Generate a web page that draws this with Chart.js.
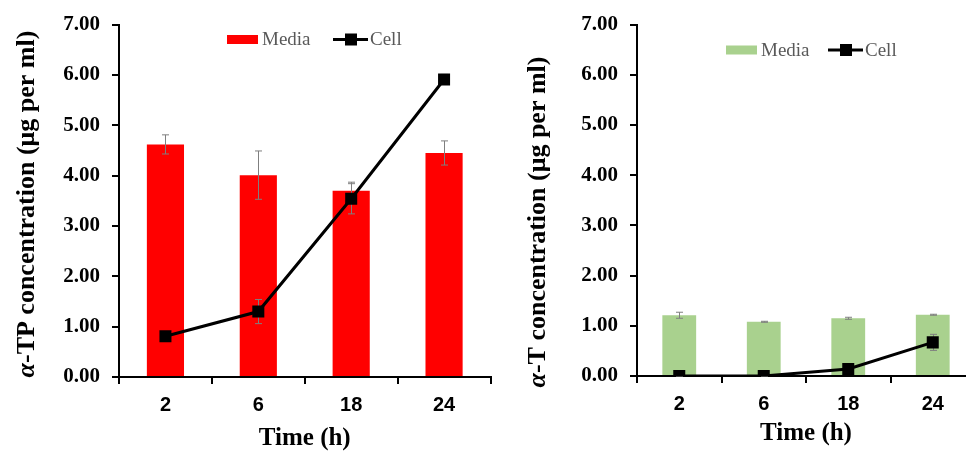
<!DOCTYPE html>
<html>
<head>
<meta charset="utf-8">
<script src="https://cdn.jsdelivr.net/npm/chart.js@4"></script>
<style>
  html, body { margin: 0; padding: 0; background: #fff; overflow: hidden; }
  body { width: 966px; height: 451px; position: relative; }
  canvas { position: absolute; top: 0; }
  #tpChart { left: 0; }
  #tChart { left: 495px; }
</style>
</head>
<body>
<canvas id="tpChart" width="499" height="451"></canvas>
<canvas id="tChart" width="490" height="451"></canvas>
<script>
// sampling times (h)
const hours = ['2', '6', '18', '24'];
const yMin = 0, yMax = 7, yStep = 1;

// alpha-TP (left panel)
const tpMedia = [4.62, 4.01, 3.70, 4.45];
const tpMediaErr = [0.19, 0.48, 0.17, 0.24];
const tpCell = [0.81, 1.30, 3.54, 5.91];
const tpCellErr = [0.06, 0.24, 0.30, 0.10];

// alpha-T (right panel)
const tMedia = [1.21, 1.08, 1.15, 1.22];
const tMediaErr = [0.06, 0.01, 0.02, 0.01];
const tCell = [0.00, 0.00, 0.14, 0.67];
const tCellErr = [0.01, 0.01, 0.03, 0.16];

const SERIF = '"Liberation Serif", "Times New Roman", serif';
const SANS = '"Liberation Sans", Arial, sans-serif';

// gray whiskers: under the line markers, over the bars
function drawErrors(chart, args) {
    const ds = chart.data.datasets[args.index];
    if (!ds.errors) return;
    const ctx = chart.ctx, y = chart.scales.y;
    ctx.save();
    ctx.strokeStyle = '#7f7f7f';
    ctx.lineWidth = 1;
    args.meta.data.forEach((el, i) => {
        const v = ds.data[i], e = ds.errors[i];
        const top = y.getPixelForValue(v + e);
        const bot = y.getPixelForValue(Math.max(0, v - e));
        const x = Math.round(el.x) + 0.5;
        ctx.beginPath();
        ctx.moveTo(x, top); ctx.lineTo(x, bot);
        ctx.moveTo(x - 3.5, top); ctx.lineTo(x + 3.5, top);
        ctx.moveTo(x - 3.5, bot); ctx.lineTo(x + 3.5, bot);
        ctx.stroke();
    });
    ctx.restore();
}

const errorBars = {
    id: 'errorBars',
    beforeDatasetDraw(chart, args) {
        if (chart.data.datasets[args.index].type === 'line') drawErrors(chart, args);
    },
    afterDatasetDraw(chart, args) {
        if (chart.data.datasets[args.index].type === 'bar') drawErrors(chart, args);
    },
};

// legend sitting inside the plot, like the original
const floatLegend = {
    id: 'floatLegend',
    afterDraw(chart, args, o) {
        const ctx = chart.ctx;
        const bar = chart.data.datasets.find((d) => d.type === 'bar');
        const line = chart.data.datasets.find((d) => d.type === 'line');
        ctx.save();
        ctx.font = '19px ' + SERIF;
        ctx.textBaseline = 'middle';
        ctx.fillStyle = bar.backgroundColor;
        ctx.fillRect(o.x, o.y - 4.5, 31, 9);
        ctx.fillStyle = '#595959';
        ctx.fillText(bar.label, o.x + 35, o.y + 1);
        ctx.strokeStyle = line.borderColor;
        ctx.lineWidth = 3;
        ctx.beginPath();
        ctx.moveTo(o.cellX, o.y);
        ctx.lineTo(o.cellX + 35, o.y);
        ctx.stroke();
        ctx.fillStyle = line.pointBackgroundColor;
        ctx.fillRect(o.cellX + 12, o.y - 6, 12, 12);
        ctx.fillStyle = '#595959';
        ctx.fillText(line.label, o.cellX + 37, o.y + 1);
        ctx.restore();
    },
};

// rotated y title with an italic alpha
const yTitle = {
    id: 'yTitle',
    afterDraw(chart, args, o) {
        const ctx = chart.ctx;
        ctx.save();
        ctx.translate(o.x, o.y);
        ctx.rotate(-Math.PI / 2);
        ctx.textBaseline = 'middle';
        ctx.fillStyle = '#000';
        const a = o.text[0], rest = o.text.slice(1);
        ctx.font = 'italic bold ' + o.size + 'px ' + SERIF;
        const wa = ctx.measureText(a).width;
        ctx.font = 'bold ' + o.size + 'px ' + SERIF;
        const wr = ctx.measureText(rest).width;
        const x0 = -(wa + wr) / 2;
        ctx.font = 'italic bold ' + o.size + 'px ' + SERIF;
        ctx.fillText(a, x0, 0);
        ctx.font = 'bold ' + o.size + 'px ' + SERIF;
        ctx.fillText(rest, x0 + wa, 0);
        ctx.restore();
    },
};

function makeChart(id, media, mediaErr, cell, cellErr, barColor, c) {
    return new Chart(document.getElementById(id), {
        data: {
            labels: hours,
            datasets: [
                { type: 'line', label: 'Cell', data: cell, errors: cellErr, order: 0,
                  borderColor: '#000', borderWidth: 3, pointStyle: 'rect', pointRadius: 8.5,
                  pointBackgroundColor: '#000', pointBorderWidth: 0, tension: 0 },
                { type: 'bar', label: 'Media', data: media, errors: mediaErr, order: 1,
                  backgroundColor: barColor, categoryPercentage: 0.4, barPercentage: 1 },
            ],
        },
        options: {
            responsive: false,
            animation: false,
            events: [],
            layout: { padding: { left: 0, top: c.top, right: c.right, bottom: 0 } },
            plugins: {
                legend: { display: false },
                tooltip: { enabled: false },
                floatLegend: c.legend,
                yTitle: c.yTitle,
            },
            scales: {
                x: {
                    afterFit: (s) => { s.height = c.xHeight; },
                    grid: { offset: true, drawOnChartArea: false, drawTicks: true, tickLength: 7,
                            color: '#000', lineWidth: 2 },
                    border: { color: '#000', width: 2 },
                    ticks: { color: '#000', padding: 9, font: { family: SANS, size: 20, weight: 'bold' } },
                    title: { display: true, text: 'Time (h)', color: '#000',
                             padding: { top: 0, bottom: c.xTitlePad },
                             font: { family: SERIF, size: 25, weight: 'bold', lineHeight: 1 } },
                },
                y: {
                    min: yMin, max: yMax,
                    afterFit: (s) => { s.width = c.yWidth; },
                    grid: { drawOnChartArea: false, drawTicks: true, tickLength: 7,
                            color: '#000', lineWidth: 2 },
                    border: { color: '#000', width: 2 },
                    ticks: { stepSize: yStep, color: '#000', padding: 12,
                             callback: (v) => v.toFixed(2),
                             font: { family: SERIF, size: 21, weight: 'bold' } },
                },
            },
        },
        plugins: [errorBars, floatLegend, yTitle],
    });
}

makeChart('tpChart', tpMedia, tpMediaErr, tpCell, tpCellErr, '#ff0000', {
    top: 21, right: 0, xHeight: 74, yWidth: 119, xTitlePad: 0,
    legend: { x: 227, y: 39.5, cellX: 333 },
    yTitle: { x: 27, y: 204, size: 26, text: 'α-TP concentration (μg per ml)' },
});

makeChart('tChart', tMedia, tMediaErr, tCell, tCellErr, '#a9d18e', {
    top: 19, right: 10, xHeight: 75, yWidth: 142, xTitlePad: 5,
    legend: { x: 231, y: 50, cellX: 333 },
    yTitle: { x: 43, y: 222, size: 26, text: 'α-T concentration (μg per ml)' },
});
</script>
</body>
</html>
